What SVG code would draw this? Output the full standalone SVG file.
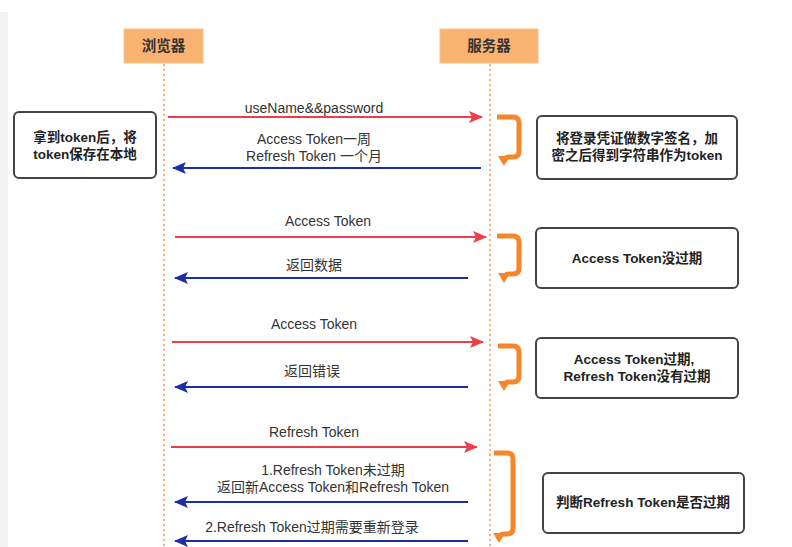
<svg xmlns="http://www.w3.org/2000/svg" width="792" height="547" viewBox="0 0 792 547">
<style>
.lbl{font-family:"Liberation Sans","Noto Sans CJK SC",sans-serif;font-size:14px;fill:#333;text-anchor:middle}
.bt{font-family:"Liberation Sans","Noto Sans CJK SC",sans-serif;font-size:13.5px;font-weight:bold;fill:#222;text-anchor:middle}
.ht{font-family:"Noto Sans CJK SC",sans-serif;font-size:14.5px;font-weight:bold;fill:#333;text-anchor:middle}
.hd{fill:#f9b26f;stroke:#fbc38f;stroke-width:1}
.life{stroke:#f5b27a;stroke-width:2;stroke-dasharray:2 3;fill:none}
.box{fill:#fff;stroke:#444;stroke-width:2}
.req{stroke:#ef3d4c;stroke-width:2;fill:none}
.rsp{stroke:#1a2ea6;stroke-width:2;fill:none}
.loop{stroke:#f7862b;stroke-width:5;fill:none;stroke-linejoin:round}
</style>
<defs>
<marker id="ar" markerUnits="userSpaceOnUse" markerWidth="14" markerHeight="12" refX="13" refY="6" orient="auto"><path d="M0,0 L14,6 L0,12 L3,6 z" fill="#ef3d4c"/></marker>
<marker id="ab" markerUnits="userSpaceOnUse" markerWidth="14" markerHeight="12" refX="13" refY="6" orient="auto"><path d="M0,0 L14,6 L0,12 L3,6 z" fill="#1a2ea6"/></marker>
<marker id="ao" markerUnits="userSpaceOnUse" markerWidth="12" markerHeight="14" refX="6" refY="6" orient="auto"><path d="M0,1 L10,7 L0,13 z" fill="#f7862b" transform="translate(0,-1)"/></marker>
</defs>
<rect x="0" y="0" width="792" height="547" fill="#fff"/>
<rect x="0" y="12" width="8" height="535" fill="#f3f3f3"/>

<g id="browser">
<rect class="hd" x="124" y="29" width="79" height="34"/>
<text class="ht" x="163.5" y="51">浏览器</text>
<line class="life" x1="164" y1="64" x2="164" y2="547"/>
</g>
<g id="server">
<rect class="hd" x="440" y="29" width="98" height="34"/>
<text class="ht" x="489" y="51">服务器</text>
<line class="life" x1="490" y1="64" x2="490" y2="547"/>
</g>

<g id="note-browser">
<rect class="box" x="14" y="112" width="142" height="66" rx="5"/>
<text class="bt" x="85" y="142">拿到token后，将</text>
<text class="bt" x="85" y="159">token保存在本地</text>
</g>
<g id="note1">
<rect class="box" x="537" y="116" width="200" height="63" rx="5"/>
<text class="bt" x="637" y="143">将登录凭证做数字签名，加</text>
<text class="bt" x="637" y="160">密之后得到字符串作为token</text>
</g>
<g id="note2">
<rect class="box" x="536" y="228" width="202" height="60" rx="5"/>
<text class="bt" x="637" y="263">Access Token没过期</text>
</g>
<g id="note3">
<rect class="box" x="536" y="338" width="202" height="60" rx="5"/>
<text class="bt" x="634" y="364">Access Token过期,</text>
<text class="bt" x="637" y="381">Refresh Token没有过期</text>
</g>
<g id="note4">
<rect class="box" x="543" y="473" width="201" height="60" rx="5"/>
<text class="bt" x="643" y="507">判断Refresh Token是否过期</text>
</g>

<g id="connectors">
<line class="req" x1="168" y1="117" x2="482" y2="117" marker-end="url(#ar)"/>
<text class="lbl" x="314" y="113">useName&amp;&amp;password</text>
<line class="rsp" x1="481" y1="168" x2="173" y2="168" marker-end="url(#ab)"/>
<text class="lbl" x="314" y="144">Access Token一周</text>
<text class="lbl" x="314" y="161">Refresh Token 一个月</text>
<path class="loop" d="M497,117 H513 Q519,117 519,123 V151 Q519,157 513,157 H509 Q504,157 504,162" marker-end="url(#ao)"/>

<line class="req" x1="175" y1="237" x2="486" y2="237" marker-end="url(#ar)"/>
<text class="lbl" x="328" y="226">Access Token</text>
<line class="rsp" x1="468" y1="278" x2="175" y2="278" marker-end="url(#ab)"/>
<text class="lbl" x="314" y="270">返回数据</text>
<path class="loop" d="M497,236 H513 Q519,236 519,242 V268 Q519,274 513,274 H509 Q504,274 504,279" marker-end="url(#ao)"/>

<line class="req" x1="172" y1="342" x2="483" y2="342" marker-end="url(#ar)"/>
<text class="lbl" x="314" y="329">Access Token</text>
<line class="rsp" x1="468" y1="387" x2="175" y2="387" marker-end="url(#ab)"/>
<text class="lbl" x="312" y="376">返回错误</text>
<path class="loop" d="M498,346 H513 Q519,346 519,352 V376 Q519,382 513,382 H509 Q504,382 504,387" marker-end="url(#ao)"/>

<line class="req" x1="171" y1="447" x2="477" y2="447" marker-end="url(#ar)"/>
<text class="lbl" x="314" y="437">Refresh Token</text>
<line class="rsp" x1="468" y1="502" x2="175" y2="502" marker-end="url(#ab)"/>
<text class="lbl" x="333" y="475">1.Refresh Token未过期</text>
<text class="lbl" x="333" y="492">返回新Access Token和Refresh Token</text>
<line class="rsp" x1="468" y1="541" x2="175" y2="541" marker-end="url(#ab)"/>
<text class="lbl" x="312" y="532">2.Refresh Token过期需要重新登录</text>
<path class="loop" d="M494,453 H507 Q513,453 513,459 V528 Q513,534 507,534 H504 Q499,534 499,539" marker-end="url(#ao)"/>
</g>
</svg>
